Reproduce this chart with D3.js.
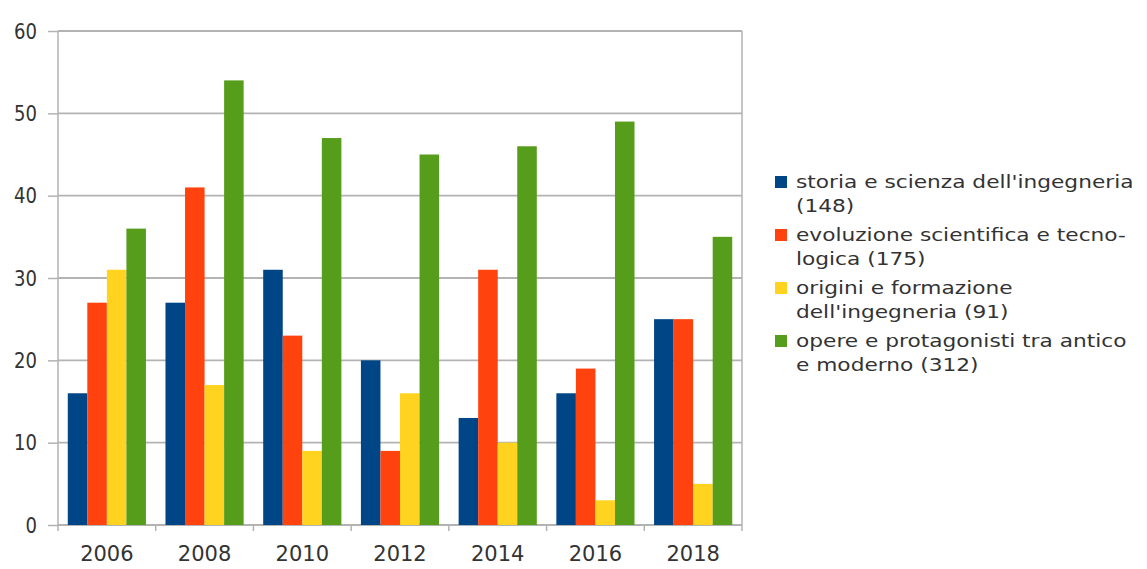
<!DOCTYPE html>
<html>
<head>
<meta charset="utf-8">
<script src="https://cdn.jsdelivr.net/npm/d3@7"></script>
<style>
	body { margin: 0; background: #fff; }
	svg { display: block; }
	text { font-family: "DejaVu Sans", sans-serif; fill: #333; }
</style>
</head>
<body>
<script>
// data
var years = ["2006", "2008", "2010", "2012", "2014", "2016", "2018"];
var series_names = [
	["storia e scienza dell'ingegneria", "(148)"],
	["evoluzione scientifica e tecno-", "logica (175)"],
	["origini e formazione", "dell'ingegneria (91)"],
	["opere e protagonisti tra antico", "e moderno (312)"]
];
var colors = ["#004586", "#ff420e", "#ffd320", "#579d1c"];
var storia    = [16, 27, 31, 20, 13, 16, 25];
var evoluzione = [27, 41, 23, 9, 31, 19, 25];
var origini   = [31, 17, 9, 16, 10, 3, 5];
var opere     = [36, 54, 47, 45, 46, 49, 35];
var y_ticks = [0, 10, 20, 30, 40, 50, 60];

var values = [storia, evoluzione, origini, opere];
var W = 1147, H = 569;
var m = { left: 58, right: 742, top: 31, bottom: 525 };

var svg = d3.select("body").append("svg").attr("width", W).attr("height", H);

var x = d3.scaleBand().domain(years).range([m.left, m.right]).paddingInner(0.2).paddingOuter(0.1);
var x_full = d3.scaleBand().domain(years).range([m.left, m.right]);
var xs = d3.scaleBand().domain(d3.range(values.length)).range([0, x.bandwidth()]);
var y = d3.scaleLinear().domain([0, 60]).range([m.bottom, m.top]);

// grid //{{{
var gY = svg.append("g")
	.attr("transform", "translate(" + m.left + ",0)")
	.call(d3.axisLeft(y).tickValues(y_ticks).tickSize(10).tickPadding(0));
gY.select(".domain").remove();
gY.selectAll("line").attr("stroke", "#b3b3b3").attr("stroke-width", 1.5);
// condensed, tall digits like the original
gY.selectAll("text").attr("font-size", 22).attr("fill", "#444")
	.attr("x", null).attr("transform", "translate(-21,0) scale(0.82,1)");

svg.append("g").selectAll("line").data(y_ticks).join("line")
	.attr("x1", m.left).attr("x2", m.right)
	.attr("y1", d => y(d)).attr("y2", d => y(d))
	.attr("stroke", "#b3b3b3").attr("stroke-width", 1.8);

svg.append("line").attr("x1", m.left).attr("x2", m.left).attr("y1", m.top).attr("y2", m.bottom + 6)
	.attr("stroke", "#b3b3b3").attr("stroke-width", 1.5);
svg.append("line").attr("x1", m.right).attr("x2", m.right).attr("y1", m.top).attr("y2", m.bottom + 6)
	.attr("stroke", "#b3b3b3").attr("stroke-width", 1.5);
//}}}
// x axis //{{{
var gX = svg.append("g").attr("transform", "translate(0," + m.bottom + ")")
	.call(d3.axisBottom(x_full).tickSize(0).tickPadding(21));
gX.select(".domain").remove();
gX.selectAll("text").attr("font-size", 21).attr("fill", "#444");
svg.append("g").selectAll("line").data(years.slice(1)).join("line")
	.attr("x1", d => x_full(d)).attr("x2", d => x_full(d))
	.attr("y1", m.bottom).attr("y2", m.bottom + 6)
	.attr("stroke", "#b3b3b3").attr("stroke-width", 1.5);
//}}}
// bars //{{{
values.forEach(function(vals, s) {
	svg.append("g").selectAll("rect").data(vals).join("rect")
		.attr("x", (d, i) => x(years[i]) + xs(s))
		.attr("y", d => y(d))
		.attr("width", xs.bandwidth())
		.attr("height", d => y(0) - y(d))
		.attr("fill", colors[s]);
});
//}}}
// legend //{{{
var lg = svg.append("g").attr("transform", "translate(775,188)");
series_names.forEach(function(lines, s) {
	var g = lg.append("g").attr("transform", "translate(0," + (s * 53) + ")");
	g.append("rect").attr("x", 0).attr("y", -12).attr("width", 12).attr("height", 12).attr("fill", colors[s]);
	lines.forEach(function(t, k) {
		g.append("text").attr("transform", "translate(21," + (k * 24) + ") scale(1.24,1)")
			.attr("font-size", 17.5).text(t);
	});
});
//}}}
</script>
</body>
</html>
